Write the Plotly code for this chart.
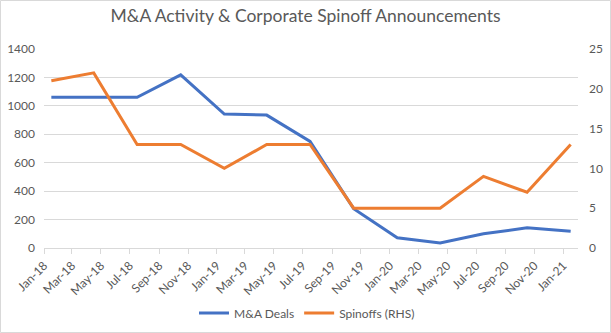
import plotly.graph_objects as go

# Data (quarterly observations)
months = ["2018-01", "2018-04", "2018-07", "2018-10", "2019-01", "2019-04", "2019-07",
          "2019-10", "2020-01", "2020-04", "2020-07", "2020-10", "2021-01"]
mna_deals = [1060, 1060, 1060, 1218, 942, 935, 750, 277, 72, 36, 100, 142, 118]
spinoffs = [21, 22, 13, 13, 10, 13, 13, 5, 5, 5, 9, 7, 13]

tick_dates = ["2018-01-01", "2018-03-01", "2018-05-01", "2018-07-01", "2018-09-01", "2018-11-01",
              "2019-01-01", "2019-03-01", "2019-05-01", "2019-07-01", "2019-09-01", "2019-11-01",
              "2020-01-01", "2020-03-01", "2020-05-01", "2020-07-01", "2020-09-01", "2020-11-01",
              "2021-01-01"]

FONT = "Lato"
GREY = "#595959"
GRID = "#d9d9d9"

fig = go.Figure()
fig.add_trace(go.Scatter(x=months, y=mna_deals, name="M&A Deals", mode="lines",
                         line=dict(color="#4472C4", width=3),
                         xperiod="M1", xperiodalignment="middle"))
fig.add_trace(go.Scatter(x=months, y=spinoffs, name="Spinoffs (RHS)", mode="lines",
                         line=dict(color="#ED7D31", width=3), yaxis="y2",
                         xperiod="M1", xperiodalignment="middle"))

W, H = 611, 333
L, R, T, B = 44, 33, 49, 85
pw = W - L - R
ph = H - T - B

fig.update_layout(
    width=W, height=H,
    margin=dict(l=L, r=R, t=T, b=B, autoexpand=False),
    paper_bgcolor="white", plot_bgcolor="white",
    font=dict(family=FONT, color=GREY, size=12),
    title=dict(text="M&A Activity & Corporate Spinoff Announcements",
               x=0.5, xanchor="center", y=1 - 16 / H, yanchor="middle",
               font=dict(family=FONT, size=17.5, color=GREY)),
    xaxis=dict(type="date", range=["2018-01-01", "2021-02-01"], automargin=False,
               tickvals=tick_dates, tickformat="%b-%y", tickangle=-45,
               ticks="outside", ticklen=5, tickcolor=GRID,
               showline=True, linecolor=GRID, linewidth=1,
               showgrid=False, tickfont=dict(size=12, color=GREY)),
    yaxis=dict(range=[0, 1400], dtick=200, showgrid=True, gridcolor=GRID, automargin=False,
               zeroline=False, showline=False, ticks="", ticklabelstandoff=8,
               tickfont=dict(size=12, color=GREY)),
    yaxis2=dict(range=[0, 25], dtick=5, overlaying="y", side="right", automargin=False,
                showgrid=False, zeroline=False, showline=False, ticks="",
                ticklabelstandoff=10, tickfont=dict(size=12, color=GREY)),
    legend=dict(orientation="h", x=(307 - L) / pw, xanchor="center",
                y=(T + ph - 313) / ph, yanchor="middle",
                font=dict(size=12, color=GREY), bgcolor="rgba(0,0,0,0)"),
    showlegend=True,
)

# chart-area border
fig.add_shape(type="rect", xref="paper", yref="paper",
              x0=(0.5 - L) / pw, x1=(W - 0.5 - L) / pw,
              y0=(T + ph - (H - 0.5)) / ph, y1=(T + ph - 0.5) / ph,
              line=dict(color=GRID, width=1), fillcolor="rgba(0,0,0,0)", layer="below")

fig.write_html("out.html")
